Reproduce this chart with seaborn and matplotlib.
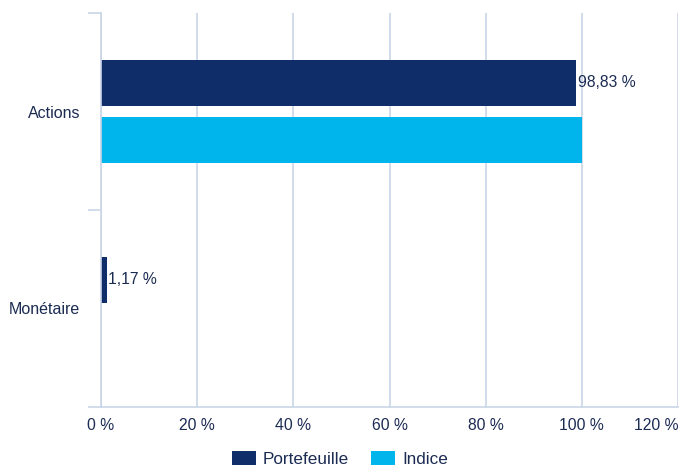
import matplotlib
matplotlib.use("Agg")
import matplotlib.pyplot as plt
import seaborn as sns
import pandas as pd
from matplotlib.ticker import FixedLocator

categories = ["Actions", "Monétaire"]
portefeuille = [98.83, 1.17]
indice = [100.0, 0.0]
series_names = ["Portefeuille", "Indice"]
x_ticks = [0, 20, 40, 60, 80, 100, 120]

df = pd.DataFrame({
    "cat": categories * 2,
    "val": portefeuille + indice,
    "serie": [series_names[0]] * 2 + [series_names[1]] * 2,
})

sns.set_theme(style="white")
plt.rcParams['font.family'] = ['Liberation Sans', 'DejaVu Sans']

navy = "#0f2d69"
cyan = "#00b5eb"
grid = "#c9d5e8"
txt = "#1b2b52"

fig = plt.figure(figsize=(6.8, 4.66), dpi=100)
ax = fig.add_axes([101/680, 1-407/466, (678-101)/680, (407-13)/466])

sns.barplot(data=df, y="cat", x="val", hue="serie", orient="h",
            palette=[navy, cyan], width=0.58, gap=0.21, ax=ax,
            legend=True, saturation=1, edgecolor="none")

ax.set_xlim(0, 120)
ax.set_ylim(1.5, -0.5)
ax.set_xticks(x_ticks)
ax.set_xticklabels([f"{t} %" for t in x_ticks], color=txt, fontsize=11.3)
labs = ax.get_xticklabels()
labs[-1].set_ha("right")
labs[-1].set_x(120)
ax.tick_params(axis="x", length=0, pad=8)
ax.xaxis.grid(True, color=grid, linewidth=1.2)
ax.set_axisbelow(True)

ax.tick_params(axis="y", which="major", left=True, length=0, pad=15, labelcolor=txt, labelsize=11.5)
ax.yaxis.set_minor_locator(FixedLocator([-0.5, 0.5, 1.5]))
ax.tick_params(axis="y", which="minor", left=True, length=9.4, width=1.2, color=grid)

for s in ["top", "right"]:
    ax.spines[s].set_visible(False)
for s in ["left", "bottom"]:
    ax.spines[s].set_color(grid)
    ax.spines[s].set_linewidth(1.2)

ax.set_xlabel("")
ax.set_ylabel("")

cont = ax.containers[0]
ax.bar_label(cont, labels=[f"{v:.2f}".replace(".", ",") + " %" for v in portefeuille],
             padding=1, color=txt, fontsize=11.3)

h, l = ax.get_legend_handles_labels()
ax.legend(h, l, loc="lower center", bbox_to_anchor=(0.5, -0.035), bbox_transform=fig.transFigure,
          ncol=2, frameon=False, fontsize=12.3, labelcolor=txt, handlelength=1.4,
          handleheight=0.95, handletextpad=0.4, columnspacing=1.3)

fig.savefig("out.png", dpi=100)
